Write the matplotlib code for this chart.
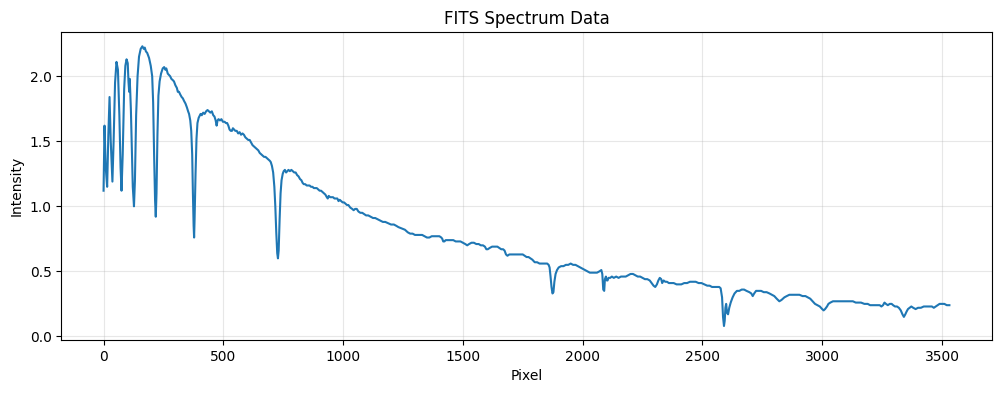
import matplotlib
matplotlib.use("Agg")
import matplotlib.pyplot as plt

# spectrum values (pixel index, intensity)
pixel = [
    0, 4, 9, 15, 20, 25, 30, 37, 42, 48, 54, 60, 66, 71, 75, 80, 86, 91, 96, 101,
    104, 107, 109, 111, 114, 118, 122, 127, 131, 136, 142, 148, 155, 162, 168, 172, 177, 182, 190, 197,
    203, 207, 211, 215, 218, 221, 225, 229, 234, 240, 247, 253, 258, 262, 268, 273, 278, 283, 289, 294,
    300, 306, 310, 315, 320, 326, 331, 336, 342, 348, 353, 357, 362, 366, 370, 373, 376, 378, 380, 384,
    388, 392, 397, 402, 405, 410, 416, 422, 428, 434, 440, 446, 452, 458, 463, 468, 472, 476, 480, 486,
    492, 498, 505, 511, 516, 521, 526, 531, 536, 540, 545, 550, 556, 562, 568, 574, 580, 586, 592, 598,
    604, 610, 616, 622, 628, 634, 640, 646, 652, 658, 664, 670, 676, 682, 688, 694, 698, 703, 708, 713,
    717, 721, 725, 728, 731, 735, 739, 743, 748, 752, 757, 762, 767, 772, 778, 784, 790, 796, 802, 808,
    814, 820, 826, 831, 836, 842, 848, 854, 860, 866, 872, 878, 884, 890, 896, 902, 908, 914, 920, 926,
    932, 936, 940, 946, 952, 958, 964, 970, 976, 981, 986, 992, 998, 1004, 1010, 1016, 1022, 1030, 1038, 1044,
    1050, 1057, 1064, 1072, 1080, 1088, 1096, 1105, 1115, 1125, 1134, 1145, 1155, 1166, 1176, 1188, 1200, 1212, 1222, 1231,
    1245, 1258, 1270, 1280, 1290, 1300, 1310, 1320, 1330, 1340, 1350, 1360, 1370, 1380, 1392, 1402, 1410, 1414, 1418, 1423,
    1428, 1434, 1441, 1450, 1460, 1470, 1480, 1490, 1500, 1510, 1518, 1526, 1536, 1546, 1556, 1566, 1575, 1584, 1592, 1598,
    1604, 1612, 1622, 1632, 1644, 1652, 1660, 1668, 1674, 1680, 1686, 1694, 1702, 1712, 1722, 1732, 1742, 1750, 1758, 1766,
    1774, 1782, 1790, 1800, 1810, 1820, 1830, 1842, 1852, 1858, 1862, 1866, 1870, 1874, 1878, 1882, 1887, 1893, 1900, 1910,
    1920, 1930, 1940, 1950, 1960, 1970, 1980, 1990, 2000, 2010, 2020, 2030, 2040, 2050, 2060, 2070, 2078, 2082, 2086, 2090,
    2093, 2097, 2101, 2104, 2108, 2115, 2122, 2130, 2140, 2150, 2160, 2170, 2180, 2190, 2200, 2210, 2220, 2230, 2240, 2250,
    2260, 2270, 2280, 2288, 2296, 2303, 2310, 2316, 2322, 2328, 2332, 2338, 2345, 2352, 2360, 2370, 2380, 2392, 2400, 2412,
    2424, 2436, 2448, 2460, 2472, 2484, 2496, 2508, 2520, 2530, 2540, 2550, 2560, 2570, 2576, 2582, 2586, 2590, 2593, 2596,
    2599, 2603, 2607, 2612, 2618, 2626, 2634, 2644, 2654, 2664, 2674, 2684, 2696, 2704, 2710, 2716, 2724, 2734, 2745, 2756,
    2768, 2780, 2790, 2800, 2810, 2821, 2830, 2842, 2852, 2863, 2875, 2890, 2905, 2918, 2930, 2940, 2950, 2960, 2970, 2980,
    2990, 3000, 3006, 3012, 3020, 3026, 3034, 3045, 3058, 3072, 3086, 3100, 3114, 3128, 3140, 3150, 3162, 3176, 3190, 3200,
    3211, 3222, 3232, 3240, 3247, 3254, 3260, 3266, 3274, 3282, 3290, 3296, 3304, 3312, 3320, 3328, 3335, 3341, 3347, 3352,
    3358, 3365, 3372, 3380, 3390, 3400, 3412, 3424, 3436, 3448, 3458, 3466, 3474, 3482, 3490, 3500, 3510, 3520, 3531,
]
intensity = [
    1.12, 1.62, 1.30, 1.15, 1.55, 1.84, 1.50, 1.19, 1.50, 1.95, 2.11, 2.05, 1.70, 1.30, 1.12, 1.40, 1.90, 2.08, 2.13, 2.10,
    1.96, 1.88, 1.98, 1.90, 1.75, 1.45, 1.15, 1.00, 1.20, 1.70, 2.00, 2.15, 2.21, 2.23, 2.21, 2.22, 2.19, 2.18, 2.14, 2.08,
    2.00, 1.80, 1.40, 1.05, 0.92, 1.10, 1.55, 1.85, 1.96, 2.02, 2.06, 2.07, 2.05, 2.06, 2.02, 2.01, 2.00, 1.98, 1.97, 1.96,
    1.93, 1.91, 1.88, 1.88, 1.86, 1.84, 1.83, 1.81, 1.79, 1.76, 1.73, 1.71, 1.66, 1.58, 1.40, 1.10, 0.85, 0.76, 0.90, 1.25,
    1.52, 1.64, 1.68, 1.70, 1.71, 1.70, 1.72, 1.71, 1.73, 1.74, 1.73, 1.72, 1.73, 1.70, 1.69, 1.66, 1.62, 1.66, 1.67, 1.66,
    1.67, 1.65, 1.65, 1.64, 1.64, 1.62, 1.59, 1.58, 1.58, 1.60, 1.59, 1.58, 1.58, 1.56, 1.57, 1.55, 1.56, 1.55, 1.53, 1.52,
    1.51, 1.51, 1.49, 1.47, 1.46, 1.45, 1.44, 1.43, 1.41, 1.40, 1.39, 1.38, 1.38, 1.37, 1.36, 1.35, 1.34, 1.31, 1.26, 1.15,
    1.00, 0.80, 0.64, 0.60, 0.66, 0.90, 1.10, 1.20, 1.25, 1.27, 1.28, 1.26, 1.27, 1.28, 1.27, 1.28, 1.27, 1.26, 1.26, 1.24,
    1.23, 1.21, 1.20, 1.18, 1.17, 1.17, 1.16, 1.16, 1.16, 1.15, 1.15, 1.14, 1.14, 1.14, 1.13, 1.12, 1.12, 1.11, 1.10, 1.09,
    1.07, 1.06, 1.08, 1.07, 1.07, 1.07, 1.06, 1.06, 1.06, 1.04, 1.05, 1.04, 1.03, 1.03, 1.02, 1.01, 1.01, 0.99, 0.98, 0.97,
    0.98, 0.98, 0.96, 0.95, 0.95, 0.94, 0.93, 0.93, 0.92, 0.91, 0.91, 0.90, 0.89, 0.88, 0.88, 0.87, 0.86, 0.86, 0.85, 0.84,
    0.83, 0.82, 0.80, 0.79, 0.79, 0.78, 0.78, 0.78, 0.78, 0.77, 0.76, 0.76, 0.77, 0.77, 0.77, 0.77, 0.76, 0.75, 0.73, 0.73,
    0.74, 0.74, 0.74, 0.74, 0.74, 0.73, 0.73, 0.73, 0.72, 0.71, 0.70, 0.71, 0.72, 0.72, 0.71, 0.71, 0.70, 0.70, 0.69, 0.67,
    0.67, 0.68, 0.69, 0.69, 0.69, 0.68, 0.67, 0.67, 0.66, 0.63, 0.62, 0.63, 0.63, 0.63, 0.63, 0.63, 0.63, 0.63, 0.62, 0.61,
    0.61, 0.60, 0.59, 0.57, 0.57, 0.56, 0.56, 0.56, 0.56, 0.55, 0.53, 0.46, 0.38, 0.33, 0.34, 0.42, 0.48, 0.51, 0.53, 0.54,
    0.54, 0.55, 0.55, 0.56, 0.55, 0.55, 0.54, 0.53, 0.52, 0.51, 0.50, 0.49, 0.49, 0.49, 0.49, 0.50, 0.51, 0.48, 0.36, 0.35,
    0.44, 0.46, 0.43, 0.43, 0.45, 0.45, 0.46, 0.45, 0.46, 0.45, 0.46, 0.46, 0.46, 0.47, 0.48, 0.48, 0.47, 0.46, 0.46, 0.45,
    0.44, 0.44, 0.43, 0.41, 0.39, 0.38, 0.40, 0.43, 0.45, 0.44, 0.41, 0.43, 0.42, 0.42, 0.41, 0.41, 0.41, 0.40, 0.40, 0.40,
    0.41, 0.41, 0.42, 0.42, 0.42, 0.41, 0.41, 0.40, 0.39, 0.39, 0.38, 0.38, 0.38, 0.38, 0.37, 0.30, 0.15, 0.08, 0.12, 0.22,
    0.25, 0.18, 0.17, 0.22, 0.26, 0.30, 0.33, 0.35, 0.35, 0.36, 0.36, 0.35, 0.34, 0.33, 0.31, 0.33, 0.35, 0.35, 0.35, 0.34,
    0.34, 0.33, 0.32, 0.31, 0.29, 0.27, 0.28, 0.30, 0.31, 0.32, 0.32, 0.32, 0.32, 0.31, 0.31, 0.30, 0.29, 0.27, 0.25, 0.24,
    0.23, 0.21, 0.20, 0.21, 0.23, 0.25, 0.26, 0.27, 0.27, 0.27, 0.27, 0.27, 0.27, 0.27, 0.26, 0.26, 0.26, 0.25, 0.25, 0.24,
    0.24, 0.24, 0.24, 0.24, 0.23, 0.24, 0.26, 0.25, 0.24, 0.25, 0.25, 0.24, 0.23, 0.23, 0.22, 0.20, 0.17, 0.15, 0.17, 0.19,
    0.21, 0.22, 0.23, 0.22, 0.21, 0.22, 0.22, 0.23, 0.23, 0.23, 0.23, 0.22, 0.23, 0.24, 0.25, 0.25, 0.25, 0.24, 0.24,
]

fig = plt.figure(figsize=(10.01, 3.93), dpi=100)
ax = fig.add_subplot(111)
fig.subplots_adjust(left=0.0612, right=0.9907, top=0.9178, bottom=0.1349)

ax.plot(pixel, intensity, color="tab:blue", linewidth=1.5)
ax.set_title("FITS Spectrum Data")
ax.set_xlabel("Pixel")
ax.set_ylabel("Intensity")
ax.grid(True, alpha=0.3)

fig.savefig("out.png", dpi=100)
